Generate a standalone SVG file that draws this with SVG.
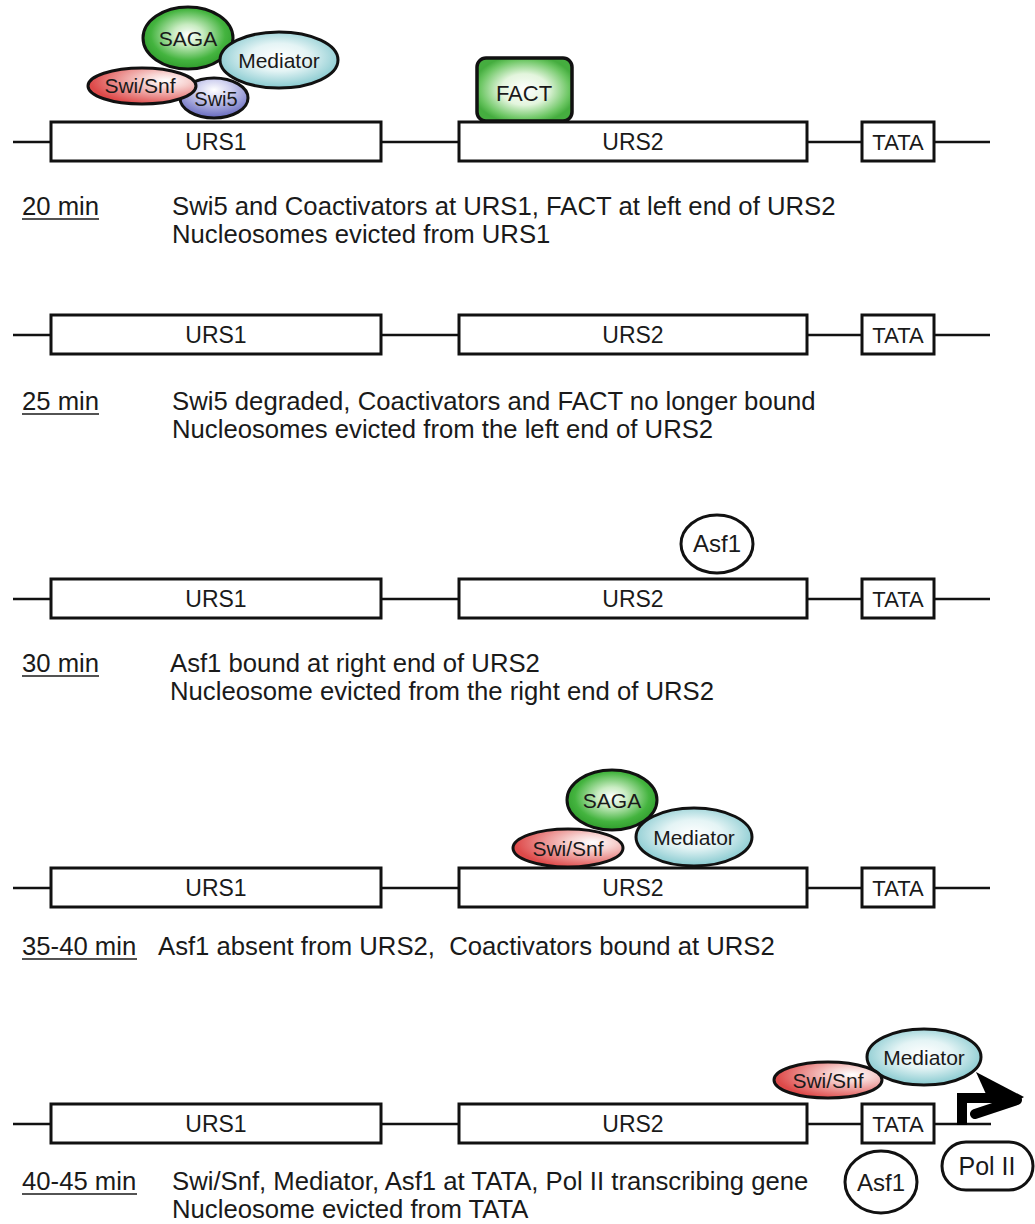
<svg xmlns="http://www.w3.org/2000/svg" width="1035" height="1224" viewBox="0 0 1035 1224">
<defs>
<radialGradient id="gGreen" cx="50%" cy="45%" r="55%">
<stop offset="0" stop-color="#ffffff"/><stop offset="0.3" stop-color="#c9ecc2"/><stop offset="0.75" stop-color="#44b43f"/><stop offset="1" stop-color="#2f9c2c"/>
</radialGradient>
<radialGradient id="gTeal" cx="50%" cy="45%" r="55%">
<stop offset="0" stop-color="#ffffff"/><stop offset="0.45" stop-color="#e4f4f5"/><stop offset="1" stop-color="#86c9cf"/>
</radialGradient>
<radialGradient id="gRed" cx="72%" cy="35%" r="70%">
<stop offset="0" stop-color="#ffffff"/><stop offset="0.3" stop-color="#f7d2d0"/><stop offset="1" stop-color="#de4a4a"/>
</radialGradient>
<radialGradient id="gBlue" cx="50%" cy="30%" r="65%">
<stop offset="0" stop-color="#ffffff"/><stop offset="0.35" stop-color="#d4d5f1"/><stop offset="1" stop-color="#6f72c2"/>
</radialGradient>
<radialGradient id="gFact" cx="50%" cy="50%" r="55%">
<stop offset="0" stop-color="#ffffff"/><stop offset="0.45" stop-color="#e3f5dd"/><stop offset="0.85" stop-color="#6cc663"/><stop offset="1" stop-color="#45ad3f"/>
</radialGradient>
</defs>
<style>
text{font-family:"Liberation Sans",Arial,sans-serif;fill:#1a1a1a}
.box{fill:#fff;stroke:#111;stroke-width:3}
.dna{stroke:#111;stroke-width:2.6;fill:none}
.lbl{font-size:23px;text-anchor:middle}
.prot{stroke:#111;stroke-width:3}
.pl{font-size:21px;text-anchor:middle}
.big{font-size:24px;text-anchor:middle}
.cap{font-size:25.7px}
.ul{stroke:#1a1a1a;stroke-width:1.6}
.pre{white-space:pre}
</style>

<g id="connectors">
<path class="dna" d="M13,142H51M381,142H459M807,142H862M934,142H990"/>
<path class="dna" d="M13,335H51M381,335H459M807,335H862M934,335H990"/>
<path class="dna" d="M13,599H51M381,599H459M807,599H862M934,599H990"/>
<path class="dna" d="M13,888H51M381,888H459M807,888H862M934,888H990"/>
<path class="dna" d="M13,1124H51M381,1124H459M807,1124H862M934,1124H991"/>
</g>

<!-- Row 1 -->
<g id="row1-urs1"><rect class="box" x="51" y="122" width="330" height="39"/><text class="lbl" x="216" y="150">URS1</text></g>
<g id="row1-urs2"><rect class="box" x="459" y="122" width="348" height="39"/><text class="lbl" x="633" y="150">URS2</text></g>
<g id="row1-tata"><rect class="box" x="862" y="122" width="72" height="39"/><text class="lbl" x="898" y="150" style="font-size:22px">TATA</text></g>
<g id="row1-swi5"><ellipse class="prot" cx="214" cy="98" rx="34" ry="20" fill="url(#gBlue)"/><text class="pl" x="216" y="106" style="font-size:20px">Swi5</text></g>
<g id="row1-swisnf"><ellipse class="prot" cx="142" cy="86" rx="54" ry="18" fill="url(#gRed)"/><text class="pl" x="140" y="93">Swi/Snf</text></g>
<g id="row1-saga"><ellipse class="prot" cx="188" cy="38" rx="45" ry="31" fill="url(#gGreen)"/><text class="pl" x="188" y="46">SAGA</text></g>
<g id="row1-mediator"><ellipse class="prot" cx="279" cy="60" rx="59" ry="28" fill="url(#gTeal)"/><text class="pl" x="279" y="68">Mediator</text></g>
<g id="row1-fact"><rect x="477" y="58" width="95" height="63" rx="9" stroke="#111" stroke-width="3.5" fill="url(#gFact)"/><text class="pl" x="524" y="101" style="font-size:22px">FACT</text></g>
<g id="row1-text">
<text class="cap" x="22" y="215">20 min</text><line class="ul" x1="22" y1="219" x2="99" y2="219"/>
<text class="cap" x="172" y="215">Swi5 and Coactivators at URS1, FACT at left end of URS2</text>
<text class="cap" x="172" y="243">Nucleosomes evicted from URS1</text>
</g>

<!-- Row 2 -->
<g id="row2-urs1"><rect class="box" x="51" y="315" width="330" height="39"/><text class="lbl" x="216" y="343">URS1</text></g>
<g id="row2-urs2"><rect class="box" x="459" y="315" width="348" height="39"/><text class="lbl" x="633" y="343">URS2</text></g>
<g id="row2-tata"><rect class="box" x="862" y="315" width="72" height="39"/><text class="lbl" x="898" y="343" style="font-size:22px">TATA</text></g>
<g id="row2-text">
<text class="cap" x="22" y="410">25 min</text><line class="ul" x1="22" y1="414" x2="99" y2="414"/>
<text class="cap" x="172" y="410">Swi5 degraded, Coactivators and FACT no longer bound</text>
<text class="cap" x="172" y="438">Nucleosomes evicted from the left end of URS2</text>
</g>

<!-- Row 3 -->
<g id="row3-urs1"><rect class="box" x="51" y="579" width="330" height="39"/><text class="lbl" x="216" y="607">URS1</text></g>
<g id="row3-urs2"><rect class="box" x="459" y="579" width="348" height="39"/><text class="lbl" x="633" y="607">URS2</text></g>
<g id="row3-tata"><rect class="box" x="862" y="579" width="72" height="39"/><text class="lbl" x="898" y="607" style="font-size:22px">TATA</text></g>
<g id="row3-asf1"><ellipse cx="717" cy="544" rx="36" ry="29" fill="#fff" stroke="#111" stroke-width="3"/><text class="big" x="717" y="552">Asf1</text></g>
<g id="row3-text">
<text class="cap" x="22" y="672">30 min</text><line class="ul" x1="22" y1="676" x2="99" y2="676"/>
<text class="cap" x="170" y="672">Asf1 bound at right end of URS2</text>
<text class="cap" x="170" y="700">Nucleosome evicted from the right end of URS2</text>
</g>

<!-- Row 4 -->
<g id="row4-urs1"><rect class="box" x="51" y="868" width="330" height="39"/><text class="lbl" x="216" y="896">URS1</text></g>
<g id="row4-urs2"><rect class="box" x="459" y="868" width="348" height="39"/><text class="lbl" x="633" y="896">URS2</text></g>
<g id="row4-tata"><rect class="box" x="862" y="868" width="72" height="39"/><text class="lbl" x="898" y="896" style="font-size:22px">TATA</text></g>
<g id="row4-saga"><ellipse class="prot" cx="612" cy="800" rx="45" ry="30" fill="url(#gGreen)"/><text class="pl" x="612" y="808">SAGA</text></g>
<g id="row4-swisnf"><ellipse class="prot" cx="568" cy="848" rx="55" ry="19" fill="url(#gRed)"/><text class="pl" x="568" y="856">Swi/Snf</text></g>
<g id="row4-mediator"><ellipse class="prot" cx="694" cy="837" rx="58" ry="29" fill="url(#gTeal)"/><text class="pl" x="694" y="845">Mediator</text></g>
<g id="row4-text">
<text class="cap" x="22" y="955">35-40 min</text><line class="ul" x1="22" y1="959" x2="137" y2="959"/>
<text class="cap pre" x="158" y="955">Asf1 absent from URS2,  Coactivators bound at URS2</text>
</g>

<!-- Row 5 -->
<g id="row5-urs1"><rect class="box" x="51" y="1104" width="330" height="39"/><text class="lbl" x="216" y="1132">URS1</text></g>
<g id="row5-urs2"><rect class="box" x="459" y="1104" width="348" height="39"/><text class="lbl" x="633" y="1132">URS2</text></g>
<g id="row5-tata"><rect class="box" x="862" y="1104" width="72" height="39"/><text class="lbl" x="898" y="1132" style="font-size:22px">TATA</text></g>
<g id="row5-mediator"><ellipse class="prot" cx="924" cy="1057" rx="57" ry="28" fill="url(#gTeal)"/><text class="pl" x="924" y="1065">Mediator</text></g>
<g id="row5-swisnf"><ellipse class="prot" cx="828" cy="1080" rx="54" ry="18" fill="url(#gRed)"/><text class="pl" x="828" y="1088">Swi/Snf</text></g>
<g id="row5-arrow">
<path d="M962,1125V1098H996" stroke="#000" stroke-width="10" fill="none"/>
<polygon points="976,1072 1024,1097 1012,1104 990,1103" fill="#000"/>
<line x1="1017" y1="1100" x2="975" y2="1114" stroke="#000" stroke-width="10" stroke-linecap="round"/>
</g>
<g id="row5-asf1"><ellipse cx="881" cy="1182" rx="36" ry="31" fill="#fff" stroke="#111" stroke-width="3"/><text class="big" x="881" y="1191">Asf1</text></g>
<g id="row5-polII"><rect x="942" y="1142" width="91" height="48" rx="24" fill="#fff" stroke="#111" stroke-width="3"/><text class="big" x="987" y="1175" style="font-size:25px">Pol II</text></g>
<g id="row5-text">
<text class="cap" x="22" y="1190">40-45 min</text><line class="ul" x1="22" y1="1194" x2="137" y2="1194"/>
<text class="cap" x="172" y="1190">Swi/Snf, Mediator, Asf1 at TATA, Pol II transcribing gene</text>
<text class="cap" x="172" y="1218">Nucleosome evicted from TATA</text>
</g>
</svg>
